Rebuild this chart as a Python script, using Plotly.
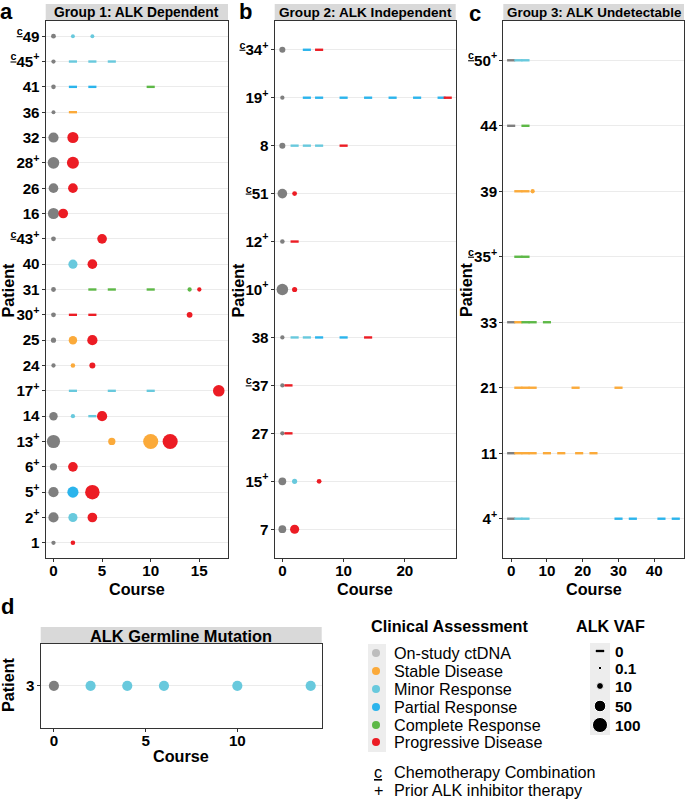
import math
import plotly.graph_objects as go

W, H = 685, 800
FONT = "Liberation Sans, Arial, sans-serif"

# ---------------- colours / categories ----------------
status_names = ["On-study ctDNA", "Stable Disease", "Minor Response",
                "Partial Response", "Complete Response", "Progressive Disease"]
status_codes = ["O", "S", "Mi", "P", "C", "PD"]
status_colors = ["#7F7F7F", "#FBAA3A", "#68C9DD", "#2BB4EC", "#5DB847", "#EC1C24"]
legend_key_colors = ["#BDBDBD", "#FBAA3A", "#68C9DD", "#2BB4EC", "#5DB847", "#EC1C24"]

C = "<sup><u>c</u></sup>"
P = "<sup>+</sup>"

# ---------------- Group 1: ALK Dependent ----------------
g1_patients = ["49", "45", "41", "36", "32", "28", "26", "16", "43", "40", "31",
               "30", "25", "24", "17", "14", "13", "6", "5", "2", "1"]
g1_labels = [C + "49", C + "45" + P, "41", "36", "32", "28" + P, "26", "16", C + "43" + P, "40", "31",
             "30" + P, "25", "24", "17" + P, "14", "13" + P, "6" + P, "5" + P, "2" + P, "1"]
g1_pt = ["49", "49", "49",
         "45", "45", "45", "45",
         "41", "41", "41", "41",
         "36", "36",
         "32", "32",
         "28", "28",
         "26", "26",
         "16", "16",
         "43", "43",
         "40", "40",
         "31", "31", "31", "31", "31", "31",
         "30", "30", "30", "30",
         "25", "25", "25",
         "24", "24", "24",
         "17", "17", "17", "17",
         "14", "14", "14", "14",
         "13", "13", "13", "13",
         "6", "6",
         "5", "5", "5",
         "2", "2", "2",
         "1", "1"]
g1_course = [0, 2, 4,
             0, 2, 4, 6,
             0, 2, 4, 10,
             0, 2,
             0, 2,
             0, 2,
             0, 2,
             0, 1,
             0, 5,
             2, 4,
             0, 4, 6, 10, 14, 15,
             0, 2, 4, 14,
             0, 2, 4,
             0, 2, 4,
             2, 6, 10, 17,
             0, 2, 4, 5,
             0, 6, 10, 12,
             0, 2,
             0, 2, 4,
             0, 2, 4,
             0, 2]
g1_status = ["O", "Mi", "Mi",
             "O", "Mi", "Mi", "Mi",
             "O", "P", "P", "C",
             "O", "S",
             "O", "PD",
             "O", "PD",
             "O", "PD",
             "O", "PD",
             "O", "PD",
             "Mi", "PD",
             "O", "C", "C", "C", "C", "PD",
             "O", "PD", "PD", "PD",
             "O", "S", "PD",
             "O", "S", "PD",
             "Mi", "Mi", "Mi", "PD",
             "O", "Mi", "Mi", "PD",
             "O", "S", "S", "PD",
             "O", "PD",
             "O", "P", "PD",
             "O", "Mi", "PD",
             "O", "PD"]
g1_vaf = [2, 0.5, 0.5,
          1, 0, 0, 0,
          1.5, 0, 0, 0,
          0.5, 0,
          35, 45,
          50, 55,
          30, 30,
          45, 30,
          2, 30,
          25, 30,
          2, 0, 0, 0, 1, 1,
          2, 0, 0, 5,
          3, 20, 35,
          1, 1.5, 6,
          0, 0, 0, 50,
          20, 1, 0, 35,
          70, 12, 100, 100,
          12, 30,
          35, 45, 90,
          35, 25, 30,
          1, 1.5]

# ---------------- Group 2: ALK Independent ----------------
g2_patients = ["34", "19", "8", "51", "12", "10", "38", "37", "27", "15", "7"]
g2_labels = [C + "34" + P, "19" + P, "8", C + "51", "12" + P, "10" + P, "38", C + "37", "27", "15" + P, "7"]
g2_pt = ["34", "34", "34",
         "19", "19", "19", "19", "19", "19", "19", "19", "19",
         "8", "8", "8", "8", "8",
         "51", "51",
         "12", "12",
         "10", "10",
         "38", "38", "38", "38", "38", "38",
         "37", "37",
         "27", "27",
         "15", "15", "15",
         "7", "7"]
g2_course = [0, 4, 6,
             0, 4, 6, 10, 14, 18, 22, 26, 27,
             0, 2, 4, 6, 10,
             0, 2,
             0, 2,
             0, 2,
             0, 2, 4, 6, 10, 14,
             0, 1,
             0, 1,
             0, 2, 6,
             0, 2]
g2_status = ["O", "P", "PD",
             "O", "P", "P", "P", "P", "P", "P", "P", "PD",
             "O", "Mi", "Mi", "Mi", "PD",
             "O", "PD",
             "O", "PD",
             "O", "PD",
             "O", "Mi", "Mi", "P", "P", "PD",
             "O", "PD",
             "O", "PD",
             "O", "Mi", "PD",
             "O", "PD"]
g2_vaf = [6, 0, 0,
          1, 0, 0, 0, 0, 0, 0, 0, 0,
          6, 0, 0, 0, 0,
          30, 2,
          1.5, 0,
          50, 3,
          1, 0, 0, 0, 0, 0,
          1, 0,
          1, 0,
          15, 3, 2,
          15, 25]

# ---------------- Group 3: ALK Undetectable ----------------
g3_patients = ["50", "44", "39", "35", "33", "21", "11", "4"]
g3_labels = [C + "50" + P, "44", "39", C + "35" + P, "33", "21", "11", "4" + P]
g3_pt = ["50", "50", "50",
         "44", "44",
         "39", "39", "39",
         "35", "35",
         "33", "33", "33", "33", "33",
         "21", "21", "21", "21", "21",
         "11", "11", "11", "11", "11", "11", "11", "11",
         "4", "4", "4", "4", "4", "4", "4"]
g3_course = [0, 2, 4,
             0, 4,
             2, 4, 6,
             2, 4,
             0, 2, 4, 6, 10,
             2, 4, 6, 18, 30,
             0, 2, 4, 6, 10, 14, 19, 23,
             0, 2, 4, 30, 34, 42, 46]
g3_status = ["O", "Mi", "Mi",
             "O", "C",
             "S", "S", "S",
             "C", "C",
             "O", "S", "C", "C", "C",
             "S", "S", "S", "S", "S",
             "O", "S", "S", "S", "S", "S", "S", "S",
             "O", "Mi", "Mi", "P", "P", "P", "P"]
g3_vaf = [0, 0, 0,
          0, 0,
          0, 0, 1,
          0, 0,
          0, 0, 0, 0, 0,
          0, 0, 0, 0, 0,
          0, 0, 0, 0, 0, 0, 0, 0,
          0, 0, 0, 0, 0, 0, 0]

# ---------------- Germline ----------------
g4_patients = ["3"]
g4_labels = ["3"]
g4_pt = ["3", "3", "3", "3", "3", "3"]
g4_course = [0, 2, 4, 6, 10, 14]
g4_status = ["O", "Mi", "Mi", "Mi", "Mi", "Mi"]
g4_vaf = [35, 35, 35, 35, 35, 35]

# legend values
vaf_legend_values = [0, 0.1, 10, 50, 100]
vaf_legend_labels = ["0", "0.1", "10", "50", "100"]


def vaf_size(v):
    return 3.1 + 1.2 * math.sqrt(v)


def px(x):
    return x / W


def py(y):
    return 1 - y / H


TICK = 15.2
TXT = 16.2

fig = go.Figure()

panels = [
    dict(ax="", pts=g1_pt, course=g1_course, status=g1_status, vaf=g1_vaf, pats=g1_patients,
         labels=g1_labels, xl=45.7, xr=228, yt=21, yb=558, xrange=[-0.8, 17.95], xt=[0, 5, 10, 15],
         strip="Group 1: ALK Dependent", cy=31, sf=13.8),
    dict(ax="2", pts=g2_pt, course=g2_course, status=g2_status, vaf=g2_vaf, pats=g2_patients,
         labels=g2_labels, xl=274.7, xr=455.7, yt=21, yb=558, xrange=[-1.25, 28.3], xt=[0, 10, 20],
         strip="Group 2: ALK Independent", cy=31, sf=13.6),
    dict(ax="3", pts=g3_pt, course=g3_course, status=g3_status, vaf=g3_vaf, pats=g3_patients,
         labels=g3_labels, xl=503.3, xr=684, yt=21, yb=558, xrange=[-2.2, 48.3], xt=[0, 10, 20, 30, 40],
         strip="Group 3: ALK Undetectable", cy=31, sf=13.4),
    dict(ax="4", pts=g4_pt, course=g4_course, status=g4_status, vaf=g4_vaf, pats=g4_patients,
         labels=g4_labels, xl=40.7, xr=321.7, yt=644, yb=727.7, xrange=[-0.72, 14.6], xt=[0, 5, 10],
         strip="ALK Germline Mutation", cy=28, sf=16.4),
]

shapes = []
annotations = []

for p in panels:
    xa = "x" + p["ax"]
    ya = "y" + p["ax"]
    for code, name, col in zip(status_codes, status_names, status_colors):
        cx, cy, cs, dx, dy = [], [], [], [], []
        for pt, c, s, v in zip(p["pts"], p["course"], p["status"], p["vaf"]):
            if s != code:
                continue
            if v > 0:
                cx.append(c); cy.append(pt); cs.append(vaf_size(v))
            else:
                dx.append(c); dy.append(pt)
        if cx:
            fig.add_trace(go.Scatter(x=cx, y=cy, mode="markers", xaxis=xa, yaxis=ya,
                                     marker=dict(size=cs, color=col, opacity=1, line=dict(width=0)),
                                     showlegend=False, hoverinfo="skip", cliponaxis=False))
        if dx:
            fig.add_trace(go.Scatter(x=dx, y=dy, mode="markers", xaxis=xa, yaxis=ya,
                                     marker=dict(symbol="line-ew", size=5.8, color=col, opacity=1,
                                                 line=dict(width=2.4, color=col)),
                                     showlegend=False, hoverinfo="skip", cliponaxis=False))
    n = len(p["pats"])
    xkey = "xaxis" + p["ax"]
    ykey = "yaxis" + p["ax"]
    fig.update_layout(**{
        xkey: dict(domain=[px(p["xl"]), px(p["xr"])], range=p["xrange"], anchor=ya,
                   tickmode="array", tickvals=p["xt"], ticks="outside", ticklen=3,
                   ticklabelstandoff=-4,
                   tickcolor="#333333", showgrid=False, zeroline=False, showline=True,
                   linecolor="#333333", linewidth=1.2, mirror=True,
                   tickfont=dict(family=FONT, size=TICK, color="#000000", weight="bold")),
        ykey: dict(domain=[py(p["yb"]), py(p["yt"])], type="category", anchor=xa,
                   categoryorder="array", categoryarray=p["pats"][::-1],
                   range=[-0.6, n - 0.4], tickmode="array", tickvals=p["pats"],
                   ticktext=p["labels"], ticks="outside", ticklen=3, tickcolor="#333333",
                   ticklabelstandoff=-1,
                   showgrid=True, gridcolor="#EBEBEB", gridwidth=1, zeroline=False,
                   showline=True, linecolor="#333333", linewidth=1.2, mirror=True,
                   tickfont=dict(family=FONT, size=TICK, color="#000000", weight="bold")),
    })
    # strip header
    shapes.append(dict(type="rect", xref="paper", yref="paper", x0=px(p["xl"]), x1=px(p["xr"]),
                       y0=py(p["yt"]), y1=py(p["yt"] - 17), fillcolor="#D9D9D9",
                       line=dict(width=0), layer="below"))
    annotations.append(dict(text="<b>" + p["strip"] + "</b>", xref="paper", yref="paper",
                            x=px((p["xl"] + p["xr"]) / 2), y=py(p["yt"] - 8.5),
                            showarrow=False, font=dict(family=FONT, size=p["sf"], color="#000000"),
                            xanchor="center", yanchor="middle"))
    # Course title
    annotations.append(dict(text="<b>Course</b>", xref="paper", yref="paper",
                            x=px((p["xl"] + p["xr"]) / 2), y=py(p["yb"] + p["cy"]),
                            showarrow=False, font=dict(family=FONT, size=TXT, color="#000000"),
                            xanchor="center", yanchor="middle"))

# Patient axis titles
for (xx, yy) in [(7.5, 290), (237.5, 290), (466, 290), (8, 685)]:
    annotations.append(dict(text="<b>Patient</b>", xref="paper", yref="paper", x=px(xx), y=py(yy),
                            showarrow=False, textangle=-90, xanchor="center", yanchor="middle",
                            font=dict(family=FONT, size=TXT, color="#000000")))

# panel letters
for (lt, xx, yy) in [("a", 6.5, 11.5), ("b", 245, 11.5), ("c", 474.5, 13.5), ("d", 7, 606.5)]:
    annotations.append(dict(text="<b>" + lt + "</b>", xref="paper", yref="paper", x=px(xx), y=py(yy),
                            showarrow=False, xanchor="center", yanchor="middle",
                            font=dict(family=FONT, size=22, color="#000000")))

# ---------------- legends (hidden axis over legend area for keys) ----------------
LX0, LY0 = 360, 600
fig.update_layout(
    xaxis5=dict(domain=[px(LX0), 1], range=[LX0, W], visible=False, anchor="y5", fixedrange=True),
    yaxis5=dict(domain=[0, py(LY0)], range=[H, LY0], visible=False, anchor="x5", fixedrange=True),
)

leg_y = [653, 671, 689, 707, 725, 742]
shapes.append(dict(type="rect", xref="paper", yref="paper", x0=px(368), x1=px(386),
                   y0=py(752), y1=py(644), fillcolor="#EDEDED", line=dict(width=0), layer="below"))
fig.add_trace(go.Scatter(x=[376] * len(status_names), y=leg_y, mode="markers", xaxis="x5", yaxis="y5",
                         marker=dict(size=8, color=legend_key_colors, opacity=1), showlegend=False,
                         hoverinfo="skip"))
for name, yy in zip(status_names, leg_y):
    annotations.append(dict(text=name, xref="paper", yref="paper", x=px(392), y=py(yy),
                            showarrow=False, xanchor="left", yanchor="middle",
                            font=dict(family=FONT, size=TXT, color="#000000")))
annotations.append(dict(text="<b>Clinical Assessment</b>", xref="paper", yref="paper", x=px(369),
                        y=py(626), showarrow=False, xanchor="left", yanchor="middle",
                        font=dict(family=FONT, size=TXT, color="#000000")))

vaf_y = [651, 668, 686, 706, 725]
shapes.append(dict(type="rect", xref="paper", yref="paper", x0=px(590), x1=px(610),
                   y0=py(735), y1=py(643), fillcolor="#EDEDED", line=dict(width=0), layer="below"))
vcx, vcy, vcs = [], [], []
for v, yy in zip(vaf_legend_values, vaf_y):
    if v > 0:
        vcx.append(600); vcy.append(yy); vcs.append(vaf_size(v))
fig.add_trace(go.Scatter(x=vcx, y=vcy, mode="markers", xaxis="x5", yaxis="y5",
                         marker=dict(size=vcs, color="#000000", opacity=1), showlegend=False,
                         hoverinfo="skip"))
fig.add_trace(go.Scatter(x=[600], y=[vaf_y[0]], mode="markers", xaxis="x5", yaxis="y5",
                         marker=dict(symbol="line-ew", size=6, color="#000000",
                                     line=dict(width=2.3, color="#000000")),
                         showlegend=False, hoverinfo="skip"))
for lab, yy in zip(vaf_legend_labels, vaf_y):
    annotations.append(dict(text="<b>" + lab + "</b>", xref="paper", yref="paper", x=px(613), y=py(yy),
                            showarrow=False, xanchor="left", yanchor="middle",
                            font=dict(family=FONT, size=15.4, color="#000000")))
annotations.append(dict(text="<b>ALK VAF</b>", xref="paper", yref="paper", x=px(574),
                        y=py(626), showarrow=False, xanchor="left", yanchor="middle",
                        font=dict(family=FONT, size=TXT, color="#000000")))

# notes
for sym, txt, yy in [("<u>c</u>", "Chemotherapy Combination", 772), ("+", "Prior ALK inhibitor therapy", 790)]:
    annotations.append(dict(text=sym, xref="paper", yref="paper", x=px(378), y=py(yy),
                            showarrow=False, xanchor="center", yanchor="middle",
                            font=dict(family=FONT, size=TXT, color="#000000")))
    annotations.append(dict(text=txt, xref="paper", yref="paper", x=px(392), y=py(yy),
                            showarrow=False, xanchor="left", yanchor="middle",
                            font=dict(family=FONT, size=TXT, color="#000000")))

fig.update_layout(width=W, height=H, margin=dict(l=0, r=0, t=0, b=0),
                  paper_bgcolor="#FFFFFF", plot_bgcolor="rgba(0,0,0,0)",
                  shapes=shapes, annotations=annotations, showlegend=False,
                  font=dict(family=FONT))

fig.write_html("out.html", config={"displayModeBar": False},
               post_script="document.body.style.margin='0';document.body.style.padding='0';")
